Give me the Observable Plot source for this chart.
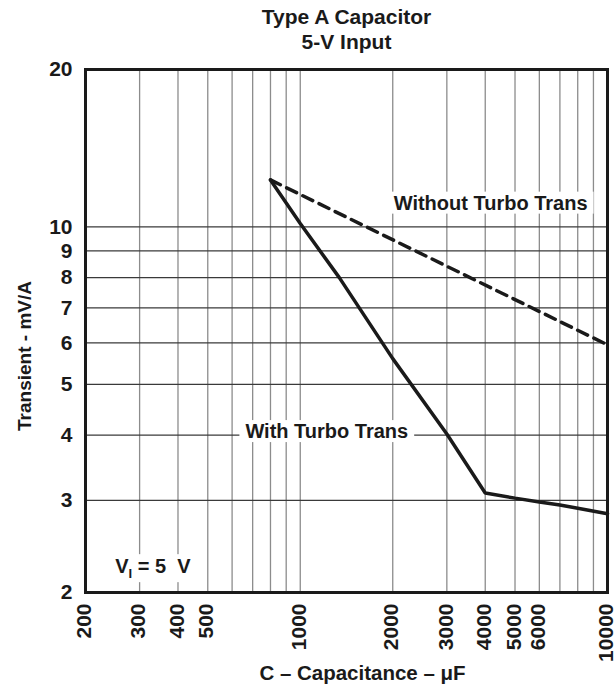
<!DOCTYPE html>
<html>
<head>
<meta charset="utf-8">
<script src="https://cdn.jsdelivr.net/npm/d3@7"></script>
<script src="https://cdn.jsdelivr.net/npm/@observablehq/plot@0.6"></script>
<style>
  html, body { margin: 0; padding: 0; background: #fff; }
</style>
</head>
<body>
<div id="chart"></div>
<script>
// ---- data ----
const xTicks = [200, 300, 400, 500, 1000, 2000, 3000, 4000, 5000, 6000, 10000];
const xGrid = [300, 400, 500, 600, 700, 800, 900, 1000, 2000, 3000, 4000, 5000, 6000, 7000, 8000, 9000];
const yTicks = [2, 3, 4, 5, 6, 7, 8, 9, 10, 20];
const yGrid = [3, 4, 5, 6, 7, 8, 9, 10];

const withCap = [800, 1000, 1340, 2000, 3000, 4000, 5000, 6000, 7000, 10000];
const withVal = [12.3, 10.15, 8.0, 5.6, 4.02, 3.1, 3.03, 2.98, 2.94, 2.83];

const withoutCap = [800, 10000];
const withoutVal = [12.3, 5.95];

const labelText = ["Without Turbo Trans", "With Turbo Trans", "VI = 5  V"];
const labelCap = [4165, 1220, 250];
const labelVal = [11.1, 4.06, 2.24];
const labelAnchor = ["middle", "middle", "start"];

const titles = ["Type A Capacitor", "5-V Input"];
const xLabel = "C – Capacitance – μF";
const yLabel = "Transient - mV/A";

// ---- build tables ----
const withData = withCap.map((c, i) => ({c, v: withVal[i]}));
const withoutData = withoutCap.map((c, i) => ({c, v: withoutVal[i]}));
const labels = labelText.map((t, i) => ({t, c: labelCap[i], v: labelVal[i], a: labelAnchor[i]}));

const font = "'Liberation Sans', Arial, Helvetica, sans-serif";
const ink = "#1a1a1a";

const chart = Plot.plot({
  width: 614,
  height: 689,
  marginTop: 69,
  marginBottom: 97,
  marginLeft: 85,
  marginRight: 7,
  style: {fontFamily: font, fontWeight: "bold", fontSize: "20px", background: "#fff", color: ink},
  x: {type: "log", domain: [200, 10000], axis: null},
  y: {type: "log", domain: [2, 20]},
  marks: [
    Plot.ruleX(xGrid, {stroke: "#8c8c8c", strokeWidth: 1.3}),
    Plot.ruleY(yGrid, {stroke: "#3a3a3a", strokeWidth: 1.3}),
    Plot.text(labels.filter(d => d.a === "middle"), {x: "c", y: "v", text: "t", textAnchor: "middle", fill: ink, fontSize: 20, fontWeight: "bold", className: "lbl"}),
    Plot.text(labels.filter(d => d.a === "start"), {x: "c", y: "v", text: "t", textAnchor: "start", fill: ink, fontSize: 20, fontWeight: "bold", className: "lblv"}),
    Plot.line(withoutData, {x: "c", y: "v", stroke: ink, strokeWidth: 3.5, strokeDasharray: "11,7"}),
    Plot.line(withData, {x: "c", y: "v", stroke: ink, strokeWidth: 3.5, strokeLinejoin: "miter"}),
    Plot.frame({stroke: ink, strokeWidth: 3}),
    // x tick labels (rotated)
    Plot.text(xTicks, {x: d => d, text: d => String(d), frameAnchor: "bottom", rotate: -90, textAnchor: "end", lineAnchor: "middle", dy: 11, dx: -1, fontSize: 21, fontWeight: "bold", fill: ink}),
    Plot.axisY({ticks: yTicks, tickFormat: d => String(d), tickSize: 0, tickPadding: 13, label: null, fontSize: 21}),
    Plot.text([titles[0]], {frameAnchor: "top", lineAnchor: "middle", textAnchor: "middle", dy: -52, fontSize: 21, fontWeight: "bold", fill: ink}),
    Plot.text([titles[1]], {frameAnchor: "top", lineAnchor: "middle", textAnchor: "middle", dy: -27, fontSize: 21, fontWeight: "bold", fill: ink}),
    Plot.text([xLabel], {frameAnchor: "bottom", lineAnchor: "middle", textAnchor: "middle", dy: 81, dx: 16, fontSize: 20.5, fontWeight: "bold", fill: ink}),
    Plot.text([yLabel], {frameAnchor: "left", lineAnchor: "middle", textAnchor: "middle", dx: -61, dy: 25, rotate: -90, fontSize: 19, fontWeight: "bold", fill: ink})
  ]
});

document.getElementById("chart").appendChild(chart);

// subscript for V_I label
const svgNS = "http://www.w3.org/2000/svg";
chart.querySelectorAll("g.lblv text").forEach(t => {
  t.textContent = "";
  t.appendChild(document.createTextNode("V"));
  const sub = document.createElementNS(svgNS, "tspan");
  sub.setAttribute("dy", "5");
  sub.setAttribute("font-size", "13");
  sub.textContent = "I";
  t.appendChild(sub);
  const rest = document.createElementNS(svgNS, "tspan");
  rest.setAttribute("dy", "-5");
  rest.textContent = " = 5  V";
  t.appendChild(rest);
});

// white boxes behind the in-plot labels
function boxes(sel, padX, padY) {
  chart.querySelectorAll(sel).forEach(g => {
    g.querySelectorAll("text").forEach(t => {
      const b = t.getBBox();
      const m = t.getCTM();
      const gm = g.getCTM();
      const r = document.createElementNS(svgNS, "rect");
      const p = chart.createSVGPoint();
      p.x = b.x; p.y = b.y;
      const tp = p.matrixTransform(gm.inverse().multiply(m));
      r.setAttribute("x", tp.x - padX);
      r.setAttribute("y", tp.y - padY);
      r.setAttribute("width", b.width + 2 * padX);
      r.setAttribute("height", b.height + 2 * padY);
      r.setAttribute("fill", "#fff");
      const tr = g.getAttribute("transform");
      if (tr) r.setAttribute("transform", tr);
      g.parentNode.insertBefore(r, g);
    });
  });
}
boxes("g.lbl", 6, 0);
boxes("g.lblv", 2, 1);
</script>
</body>
</html>
